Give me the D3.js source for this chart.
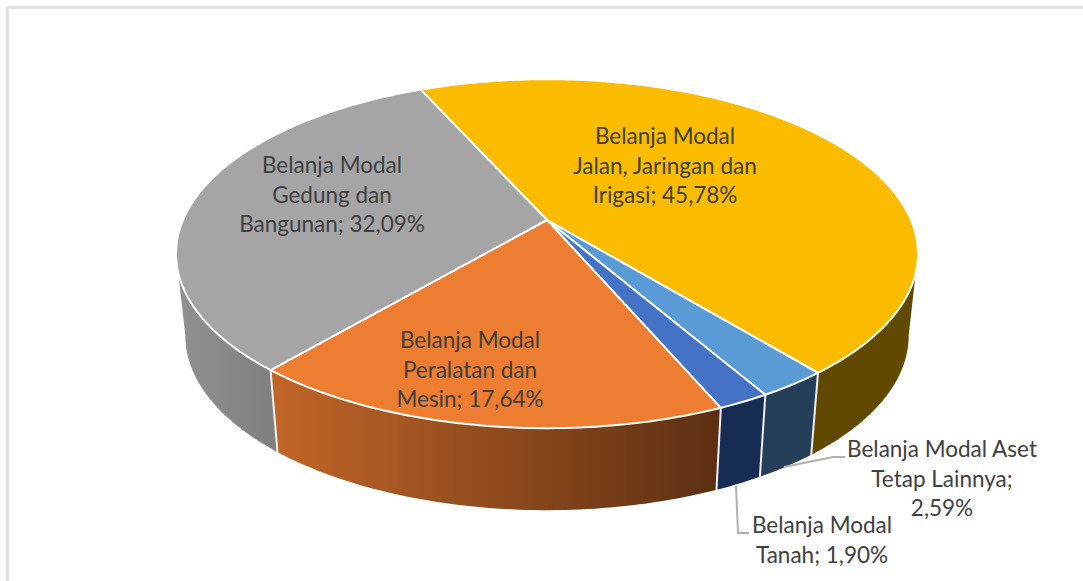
<!DOCTYPE html>
<html><head><meta charset="utf-8">
<script src="https://cdn.jsdelivr.net/npm/d3@7"></script>
<style>html,body{margin:0;padding:0;background:#fff;overflow:hidden}svg{display:block}text{font-family:Lato,"Open Sans",sans-serif;font-size:22.5px;fill:#404040;text-anchor:middle}</style>
</head><body><svg id="c" width="1083" height="581"></svg>
<script>
const categories = ["Jalan","Aset","Tanah","Peralatan","Gedung"];
const values = [45.78,2.59,1.90,17.64,32.09];
const labelLines = [
  ["Belanja Modal","Jalan, Jaringan dan","Irigasi; 45,78%"],
  ["Belanja Modal Aset","Tetap Lainnya;","2,59%"],
  ["Belanja Modal","Tanah; 1,90%"],
  ["Belanja Modal","Peralatan dan","Mesin; 17,64%"],
  ["Belanja Modal","Gedung dan","Bangunan; 32,09%"]
];
const topColors = ["#fbbc00","#5b9bd5","#4472c4","#ed7d31","#a5a5a5"];
const wallFrom = ["#614a00","#243f57","#172c52","#c26628","#919191"];
const wallTo   = ["#614a00","#243f57","#172c52","#5c2f12","#7f7f7f"];
const labelAnchors = [[665,137],[942,450],[822,526],[470,341],[332,166]];
const lineGap = 29.6;
const leaders = [[[784,467],[833,457],[845,457]],[[736,486],[738,533],[749,533]]];

const svg = d3.select("#c");
const START = -24.1*Math.PI/180, k=.193, R=364, Q=168, cx=547, cy=220, depth=82, shrink=.975;
const pie = d3.pie().sort(null).value(d=>d).startAngle(START).endAngle(START+2*Math.PI);
const arcs = pie(values);

function topPt(a){const u=Math.sin(a),v=-Math.cos(a),w=1-k*v;return [cx+R*u/w,cy+Q*v/w];}
function botPt(a){const p=topPt(a);return [cx+(p[0]-cx)*shrink,p[1]+depth];}
function samples(a0,a1){const n=Math.max(2,Math.ceil((a1-a0)/(Math.PI/180)));return d3.range(n+1).map(i=>a0+(a1-a0)*i/n);}
const line=d3.line();

// frame
svg.append("path").attr("d","M7.5 581V7.5H1083").attr("fill","none").attr("stroke","#dcdcdc").attr("stroke-width",2.5);

const defs=svg.append("defs");
arcs.forEach((d,i)=>{
  const g=defs.append("linearGradient").attr("id","w"+i).attr("x1",0).attr("x2",1).attr("y1",0).attr("y2",0);
  g.append("stop").attr("offset",0).attr("stop-color",wallFrom[i]);
  g.append("stop").attr("offset",1).attr("stop-color",wallTo[i]);
});

// walls: visible between the two silhouette tangents of the disc
const lo=101*Math.PI/180, hi=259*Math.PI/180;
arcs.forEach((d,i)=>{
  const a0=Math.max(d.startAngle,lo), a1=Math.min(d.endAngle,hi);
  if(a1<=a0) return;
  const s=samples(a0,a1);
  const pts=s.map(topPt).concat(s.slice().reverse().map(botPt));
  svg.append("path").attr("d",line(pts)+"Z").attr("fill",`url(#w${i})`);
});
// wall separators
arcs.forEach(d=>{
  if(d.endAngle>lo&&d.endAngle<hi)
    svg.append("path").attr("d",line([topPt(d.endAngle),botPt(d.endAngle)])).attr("stroke","#f0f0f0").attr("stroke-width",2).attr("fill","none");
});
// top faces
arcs.forEach((d,i)=>{
  const pts=[[cx,cy]].concat(samples(d.startAngle,d.endAngle).map(topPt));
  svg.append("path").attr("d",line(pts)+"Z").attr("fill",topColors[i]).attr("stroke","#fff").attr("stroke-width",2).attr("stroke-linejoin","round");
});
// leaders
leaders.forEach(l=>svg.append("path").attr("d",d3.line()(l)).attr("fill","none").attr("stroke","#b0b0b0").attr("stroke-width",2));
// labels
labelLines.forEach((lines,i)=>{
  const t=svg.append("text").attr("transform",`translate(${labelAnchors[i]})`);
  lines.forEach((s,j)=>t.append("tspan").attr("x",0).attr("y",j*lineGap+7).text(s));
});
</script></body></html>
